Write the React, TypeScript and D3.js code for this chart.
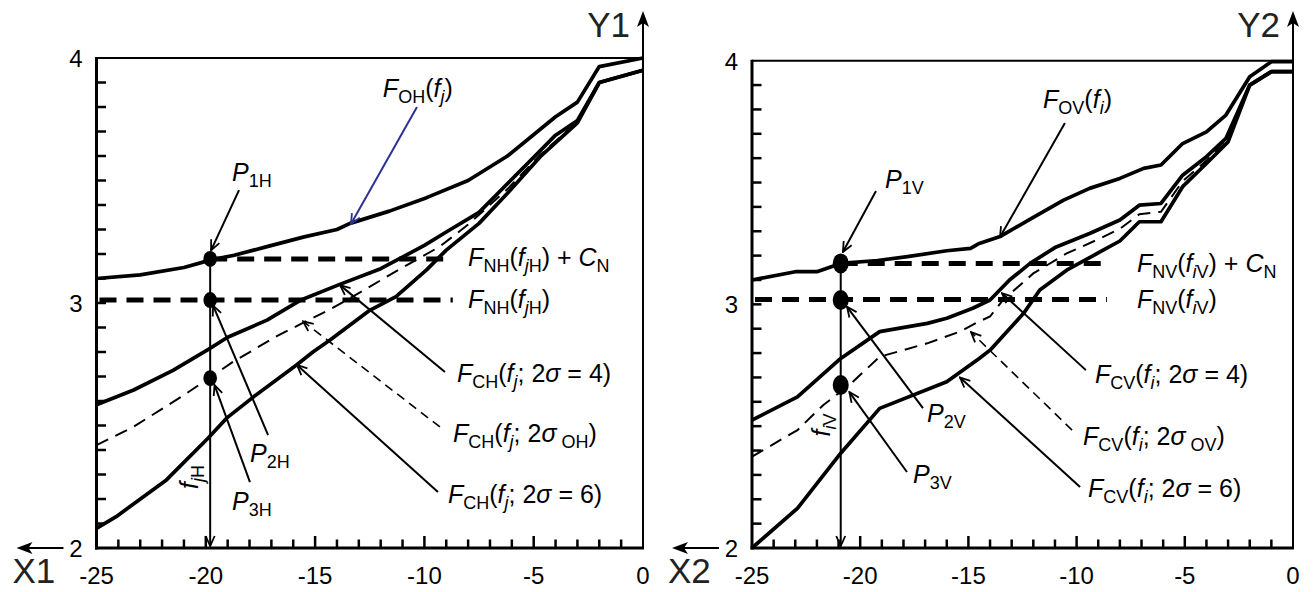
import React from 'react';
import * as d3 from 'd3';

// ---------- data ----------
const xDomain = [-25, 0];
const yDomain = [2, 4];
const xTickLabels = [-25, -20, -15, -10, -5, 0];
const yTickLabels = [2, 3, 4];

// Left panel (H)
const hOH_x = [-25, -23, -21, -19.8, -18.7, -17.2, -15.5, -14.0, -13.4, -11.6, -9.9, -8.0, -6.2, -4.0, -3.0, -2.0, 0];
const hOH_y = [3.10, 3.115, 3.145, 3.175, 3.195, 3.23, 3.27, 3.30, 3.325, 3.375, 3.43, 3.50, 3.60, 3.76, 3.82, 3.965, 4.0];
const hC4_x = [-25, -23.3, -21.5, -19.9, -19.0, -17.2, -15.7, -13.9, -12.0, -10.0, -9.0, -7.5, -6.5, -5.0, -4.0, -3.0, -2.0, 0];
const hC4_y = [2.585, 2.645, 2.725, 2.81, 2.86, 2.93, 3.01, 3.075, 3.14, 3.235, 3.29, 3.37, 3.46, 3.595, 3.685, 3.745, 3.90, 3.95];
const hCO_x = [-25, -23.3, -20.9, -18.75, -16.75, -14.3, -13.4, -10.8, -9.3, -8.0, -6.2, -4.7, -3.0, -2.0, 0];
const hCO_y = [2.42, 2.495, 2.63, 2.76, 2.865, 2.975, 3.02, 3.155, 3.23, 3.32, 3.465, 3.605, 3.74, 3.90, 3.95];
const hC6_x = [-25, -24.1, -21.8, -19.9, -19.05, -17.8, -15.85, -15.1, -14.3, -12.5, -11.3, -9.9, -9.0, -7.5, -6.2, -4.7, -3.0, -2.0, 0];
const hC6_y = [2.08, 2.128, 2.278, 2.448, 2.53, 2.618, 2.747, 2.80, 2.85, 2.97, 3.026, 3.135, 3.216, 3.325, 3.448, 3.597, 3.735, 3.90, 3.95];
const hPointX = -19.8;
const hPointsY = [3.18, 3.012, 2.693];
const hNC = 3.18;
const hN = 3.012;
const hNEnd = -8.7;

// Right panel (V)
const vOV_x = [-25, -23.0, -22.0, -20.9, -19.2, -17.9, -16.0, -14.9, -14.5, -13.5, -12.0, -10.6, -9.4, -8.0, -6.9, -6.1, -5.1, -4.0, -3.1, -2.0, -1.0, 0];
const vOV_y = [3.10, 3.134, 3.134, 3.168, 3.18, 3.195, 3.22, 3.23, 3.25, 3.28, 3.357, 3.428, 3.476, 3.517, 3.558, 3.572, 3.66, 3.708, 3.777, 3.934, 3.996, 3.996];
const vC4_x = [-25, -22.9, -20.9, -19.1, -16.9, -16.0, -14.8, -14.0, -13.1, -12.15, -11.0, -9.4, -8.0, -7.1, -6.1, -5.1, -4.0, -3.1, -2.0, -1.0, 0];
const vC4_y = [2.525, 2.62, 2.778, 2.888, 2.922, 2.943, 2.984, 3.018, 3.10, 3.168, 3.233, 3.291, 3.346, 3.407, 3.414, 3.53, 3.606, 3.681, 3.90, 3.955, 3.955];
const vCO_x = [-25, -22.9, -21.7, -20.5, -19.1, -16.9, -15.4, -14.5, -14.0, -13.4, -12.0, -10.46, -8.9, -8.0, -7.1, -6.1, -5.1, -4.0, -3.1, -2.0, -1.0, 0];
const vCO_y = [2.375, 2.484, 2.587, 2.669, 2.785, 2.84, 2.888, 2.93, 2.95, 3.018, 3.127, 3.209, 3.271, 3.31, 3.37, 3.38, 3.505, 3.59, 3.675, 3.90, 3.955, 3.955];
const vC6_x = [-25, -22.9, -20.9, -19.1, -16.0, -14.5, -14.0, -12.45, -11.7, -10.46, -8.9, -8.0, -7.1, -6.1, -5.1, -4.0, -3.0, -2.0, -1.0, 0];
const vC6_y = [2.0, 2.163, 2.389, 2.573, 2.682, 2.778, 2.812, 2.963, 3.059, 3.14, 3.216, 3.26, 3.339, 3.339, 3.483, 3.578, 3.667, 3.90, 3.955, 3.955];
const vPointX = -20.9;
const vPointsY = [3.168, 3.018, 2.669];
const vNC = 3.168;
const vN = 3.02;
const vNEnd = -8.6;

// ---------- helpers ----------
const FONT = "'Liberation Sans', Arial, Helvetica, sans-serif";
type Seg = [string, string]; // [text, flags: i = italic, s = subscript]

function Rich({ x, y, segs, size = 25, sub = 18, anchor = 'start', transform }: any) {
  let prevSub = false;
  const off = 6;
  return (
    <text x={x} y={y} fontSize={size} textAnchor={anchor} transform={transform}
      fontFamily={FONT} fill="#000" style={{ whiteSpace: 'pre' }}>
      {segs.map((s: Seg, i: number) => {
        const isSub = s[1].includes('s');
        let dy = 0;
        if (isSub && !prevSub) dy = off;
        else if (!isSub && prevSub) dy = -off;
        prevSub = isSub;
        return (
          <tspan key={i} dy={dy} fontSize={isSub ? sub : size}
            fontStyle={s[1].includes('i') ? 'italic' : 'normal'}>{s[0]}</tspan>
        );
      })}
    </text>
  );
}

const zip = (xs: number[], ys: number[]) => xs.map((v, i) => [v, ys[i]] as [number, number]);

function Panel({ L, xName, yName, k, curves, px, py, nc, n, nEnd, ann, dot }: any) {
  const x = d3.scaleLinear().domain(xDomain).range([L.x0, L.x1]);
  const y = d3.scaleLinear().domain(yDomain).range([L.y1, L.y0]);
  const line = d3.line<[number, number]>().x(d => x(d[0])).y(d => y(d[1]));
  const minorY = d3.range(21, 40).map(v => v / 10);
  const minorX = d3.range(-24, 0);
  const sub = k; // 'H' or 'V'
  const fi = k === 'H' ? 'j' : 'i';
  const labF = (a: string, tail: Seg[]): Seg[] => [['F', 'i'], [a, 's'], ['(', ''], ['f', 'i'], [fi, 'si'], ...tail];
  const A = (p: number[]) => [x(p[0]), y(p[1])];
  const arrow = (from: number[], to: number[], key: string, opts: any = {}) => {
    const [x1, y1] = A(from); const [x2, y2] = A(to);
    return <line key={key} x1={x1} y1={y1} x2={x2} y2={y2} stroke={opts.color || '#000'}
      strokeWidth={opts.w || 2} strokeDasharray={opts.dash} markerEnd={`url(#${opts.marker || 'ah'})`} />;
  };
  const T = (p: number[], segs: Seg[], key: string) => {
    const [tx, ty] = A(p);
    return <Rich key={key} x={tx} y={ty} segs={segs} />;
  };
  return (
    <g>
      {/* frame */}
      <line x1={L.x0} y1={L.y0} x2={L.x1} y2={L.y0} stroke="#000" strokeWidth={2} />
      <line x1={L.x0} y1={L.y0 - 1} x2={L.x0} y2={L.y1 + 1.5} stroke="#000" strokeWidth={3} />
      <line x1={L.x0 - 1.5} y1={L.y1} x2={L.x1 + 1} y2={L.y1} stroke="#000" strokeWidth={3} />
      {/* Y axis with arrow on the right */}
      <line x1={L.x1} y1={L.y1} x2={L.x1} y2={20} stroke="#000" strokeWidth={2} />
      <path d={`M${L.x1},11 L${L.x1 - 6},27 L${L.x1},23 L${L.x1 + 6},27 Z`} fill="#000" />
      {/* X arrow */}
      <line x1={L.x0 - 33} y1={L.y1} x2={L.x0 - 70} y2={L.y1} stroke="#000" strokeWidth={2} />
      <path d={`M${L.x0 - 80},${L.y1} L${L.x0 - 64},${L.y1 - 6} L${L.x0 - 68},${L.y1} L${L.x0 - 64},${L.y1 + 6} Z`} fill="#000" />
      {/* ticks */}
      {minorY.map(v => <line key={'ty' + v} x1={L.x0} x2={L.x0 + 9.5} y1={y(v)} y2={y(v)} stroke="#000" strokeWidth={2.5} />)}
      {minorX.map(v => <line key={'tx' + v} x1={x(v)} x2={x(v)} y1={L.y1} y2={L.y1 - (v % 5 === 0 ? 12 : 8.5)} stroke="#000" strokeWidth={2.5} />)}
      {/* tick labels */}
      {yTickLabels.map(v => <text key={'ly' + v} x={L.x0 - 14} y={y(v) + 9} fontSize={24} fontFamily={FONT} textAnchor="end">{v}</text>)}
      {xTickLabels.map(v => <text key={'lx' + v} x={x(v)} y={584} fontSize={24} fontFamily={FONT} textAnchor="middle">{v}</text>)}
      {/* axis names */}
      <text x={L.x0 - 84} y={583} fontSize={35} fontFamily={FONT} fill="#222">{xName}</text>
      <text x={L.x1 - 13} y={37} fontSize={35} fontFamily={FONT} fill="#222" textAnchor="end">{yName}</text>

      {/* curves */}
      <path d={line(zip(curves.c6x, curves.c6y)) || ''} fill="none" stroke="#000" strokeWidth={3.7} strokeLinejoin="round" />
      <path d={line(zip(curves.c4x, curves.c4y)) || ''} fill="none" stroke="#000" strokeWidth={3.7} strokeLinejoin="round" />
      <path d={line(zip(curves.cox, curves.coy)) || ''} fill="none" stroke="#000" strokeWidth={2} strokeDasharray="13 8" />
      <path d={line(zip(curves.ohx, curves.ohy)) || ''} fill="none" stroke="#000" strokeWidth={3.7} strokeLinejoin="round" />

      {/* horizontal thick dashed lines */}
      <line x1={x(px)} x2={x(nEnd)} y1={y(nc)} y2={y(nc)} stroke="#000" strokeWidth={5} strokeDasharray="17 10" />
      <line x1={x(-25) + 3} x2={x(nEnd)} y1={y(n)} y2={y(n)} stroke="#000" strokeWidth={5} strokeDasharray="17 10" />

      {/* vertical f line */}
      <line x1={x(px)} x2={x(px)} y1={y(py[0])} y2={L.y1 - 2} stroke="#000" strokeWidth={2} markerEnd="url(#ah)" />
      {py.map((v: number, i: number) => <ellipse key={'p' + i} cx={x(px)} cy={y(v)} rx={dot[0]} ry={dot[1]} fill="#000" />)}

      {/* annotations */}
      {T(ann.p1t, [['P', 'i'], ['1' + sub, 's']], 'p1t')}
      {arrow(ann.p1a[0], ann.p1a[1], 'p1a')}
      {T(ann.p2t, [['P', 'i'], ['2' + sub, 's']], 'p2t')}
      {arrow(ann.p2a[0], ann.p2a[1], 'p2a')}
      {T(ann.p3t, [['P', 'i'], ['3' + sub, 's']], 'p3t')}
      {arrow(ann.p3a[0], ann.p3a[1], 'p3a')}
      {T(ann.ot, [['F', 'i'], ['O' + sub, 's'], ['(', ''], ['f', 'i'], [fi, 'si'], [')', '']], 'ot')}
      {arrow(ann.oa[0], ann.oa[1], 'oa', k === 'H' ? { color: '#2e3192', marker: 'ahb' } : {})}
      {T(ann.nct, [['F', 'i'], ['N' + sub, 's'], ['(', ''], ['f', 'i'], [fi, 'si'], [sub, 's'], [') + ', ''], ['C', 'i'], ['N', 's']], 'nct')}
      {T(ann.nt, [['F', 'i'], ['N' + sub, 's'], ['(', ''], ['f', 'i'], [fi, 'si'], [sub, 's'], [')', '']], 'nt')}
      {T(ann.c4t, labF('C' + sub, [['; 2', ''], ['σ', 'i'], [' = 4)', '']]), 'c4t')}
      {arrow(ann.c4a[0], ann.c4a[1], 'c4a')}
      {T(ann.cot, labF('C' + sub, [['; 2', ''], ['σ', 'i'], [' O' + sub, 's'], [')', '']]), 'cot')}
      {arrow(ann.coa[0], ann.coa[1], 'coa', { w: 1.6, dash: '9 6' })}
      {T(ann.c6t, labF('C' + sub, [['; 2', ''], ['σ', 'i'], [' = 6)', '']]), 'c6t')}
      {arrow(ann.c6a[0], ann.c6a[1], 'c6a')}
      <Rich x={x(ann.ft[0])} y={y(ann.ft[1])} anchor="middle"
        transform={`rotate(-90 ${x(ann.ft[0])} ${y(ann.ft[1])})`}
        segs={[['f', 'i'], [fi, 'si'], [sub, 's']]} />
    </g>
  );
}

export default function App() {
  const LEFT = { x0: 96.5, x1: 643, y0: 58, y1: 548 };
  const RIGHT = { x0: 752, x1: 1293, y0: 60.7, y1: 548 };
  const annH = {
    p1t: [-18.8, 3.50], p1a: [[-18.48, 3.461], [-19.76, 3.215]],
    p2t: [-17.98, 2.351], p2a: [[-17.15, 2.461], [-19.67, 2.99]],
    p3t: [-18.8, 2.155], p3a: [[-17.98, 2.269], [-19.6, 2.665]],
    ot: [-11.9, 3.84], oa: [[-10.34, 3.80], [-13.36, 3.322]],
    nct: [-8.0, 3.151], nt: [-8.0, 2.98],
    c4t: [-8.51, 2.678], c4a: [[-9.06, 2.718], [-13.86, 3.073]],
    cot: [-8.69, 2.433], coa: [[-9.29, 2.494], [-15.55, 2.925]],
    c6t: [-8.92, 2.184], c6a: [[-9.38, 2.229], [-15.83, 2.747]],
    ft: [-20.35, 2.29],
  };
  const annV = {
    p1t: [-18.85, 3.477], p1a: [[-19.27, 3.465], [-20.8, 3.215]],
    p2t: [-16.91, 2.517], p2a: [[-17.1, 2.574], [-20.61, 2.99]],
    p3t: [-17.56, 2.267], p3a: [[-17.84, 2.312], [-20.5, 2.64]],
    ot: [-11.55, 3.805], oa: [[-10.54, 3.744], [-13.54, 3.276]],
    nct: [-7.21, 3.133], nt: [-7.21, 2.985],
    c4t: [-9.15, 2.677], c4a: [[-9.57, 2.73], [-13.45, 3.046]],
    cot: [-9.70, 2.423], coa: [[-10.21, 2.484], [-14.88, 2.886]],
    c6t: [-9.47, 2.209], c6a: [[-9.84, 2.25], [-15.39, 2.70]],
    ft: [-21.4, 2.505],
  };
  return (
    <svg width={1314} height={592} style={{ position: 'absolute', left: 0, top: 0, background: '#fff' }}>
      <defs>
        <marker id="ah" viewBox="0 0 12 12" refX="11" refY="6" markerWidth="12" markerHeight="12" markerUnits="userSpaceOnUse" orient="auto">
          <path d="M1,1.5 L11,6 L1,10.5" fill="none" stroke="#000" strokeWidth="1.8" />
        </marker>
        <marker id="ahb" viewBox="0 0 12 12" refX="11" refY="6" markerWidth="12" markerHeight="12" markerUnits="userSpaceOnUse" orient="auto">
          <path d="M1,1.5 L11,6 L1,10.5" fill="none" stroke="#2e3192" strokeWidth="1.8" />
        </marker>
      </defs>
      <rect width={1314} height={592} fill="#fff" />
      <Panel L={LEFT} xName="X1" yName="Y1" k="H"
        curves={{ ohx: hOH_x, ohy: hOH_y, c4x: hC4_x, c4y: hC4_y, cox: hCO_x, coy: hCO_y, c6x: hC6_x, c6y: hC6_y }}
        px={hPointX} py={hPointsY} nc={hNC} n={hN} nEnd={hNEnd} ann={annH} dot={[6.8, 8]} />
      <Panel L={RIGHT} xName="X2" yName="Y2" k="V"
        curves={{ ohx: vOV_x, ohy: vOV_y, c4x: vC4_x, c4y: vC4_y, cox: vCO_x, coy: vCO_y, c6x: vC6_x, c6y: vC6_y }}
        px={vPointX} py={vPointsY} nc={vNC} n={vN} nEnd={vNEnd} ann={annV} dot={[8, 10]} />
    </svg>
  );
}
